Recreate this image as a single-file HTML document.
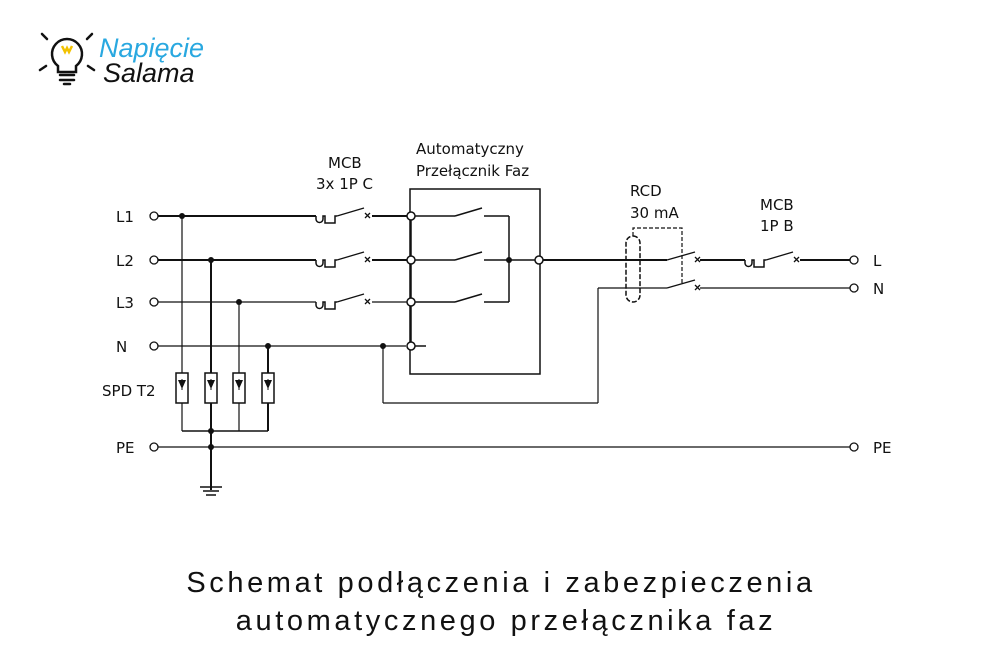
<!DOCTYPE html>
<html><head><meta charset="utf-8"><style>
html,body{margin:0;padding:0;background:#fff;}
svg{display:block;}
text{font-family:"DejaVu Sans","Liberation Sans",sans-serif;fill:#111;}
text.lib{font-family:"Liberation Sans",sans-serif;}
</style></head><body>
<svg width="1000" height="667" viewBox="0 0 1000 667" xmlns="http://www.w3.org/2000/svg">
<defs>
<g id="fuse"><path d="M0 0 v3 a3.5 3.5 0 0 0 7 0 v-3 h2 v7 h10 v-7 h2" fill="none" stroke="#111" stroke-width="1.5"/></g>
</defs>
<g stroke="#111" stroke-width="2.5" fill="none" stroke-linecap="round">
<path d="M58 66 a15 15 0 1 1 18 0 v6 h-18 z"/>
<line x1="42" y1="34" x2="47" y2="39"/><line x1="92" y1="34" x2="87" y2="39"/>
<line x1="40" y1="70" x2="46" y2="66"/><line x1="94" y1="70" x2="88" y2="66"/>
<line x1="60" y1="75" x2="74" y2="75"/><line x1="60" y1="80" x2="74" y2="80"/>
<line x1="64" y1="84" x2="70" y2="84"/>
</g>
<path d="M62 46 l3 6 l2 -4 l2 4 l3 -6" stroke="#f2c200" stroke-width="2.5" fill="none"/>
<text class="lib" x="99" y="57" style="font-style:italic;font-size:27px;fill:#29a8e0">Napięcie</text>
<text class="lib" x="103" y="82" style="font-style:italic;font-size:27px;fill:#111">Salama</text>

<g stroke="#111" fill="none">
<line x1="158" y1="216" x2="316" y2="216" stroke-width="2"/>
<line x1="158" y1="260" x2="316" y2="260" stroke-width="2"/>
<line x1="158" y1="302" x2="316" y2="302" stroke-width="1.2"/>
<line x1="158" y1="346" x2="406" y2="346" stroke-width="1.2"/>
<line x1="158" y1="447" x2="850" y2="447" stroke-width="1.2"/>
<line x1="182" y1="216" x2="182" y2="373" stroke-width="1.2"/>
<line x1="211" y1="260" x2="211" y2="373" stroke-width="2"/>
<line x1="239" y1="302" x2="239" y2="373" stroke-width="1.2"/>
<line x1="268" y1="346" x2="268" y2="373" stroke-width="2"/>
<g stroke-width="1.5">
<rect x="176" y="373" width="12" height="30"/><rect x="205" y="373" width="12" height="30"/>
<rect x="233" y="373" width="12" height="30"/><rect x="262" y="373" width="12" height="30"/>
</g>
<line x1="182" y1="379" x2="182" y2="390"/><line x1="211" y1="379" x2="211" y2="390"/>
<line x1="239" y1="379" x2="239" y2="390"/><line x1="268" y1="379" x2="268" y2="390"/>
<line x1="182" y1="403" x2="182" y2="431" stroke-width="1.2"/>
<line x1="211" y1="403" x2="211" y2="490" stroke-width="2"/>
<line x1="239" y1="403" x2="239" y2="431" stroke-width="1.2"/>
<line x1="268" y1="403" x2="268" y2="431" stroke-width="2"/>
<line x1="182" y1="431" x2="268" y2="431" stroke-width="1.5"/>
<line x1="200" y1="487" x2="222" y2="487" stroke-width="1.5"/>
<line x1="203" y1="491" x2="219" y2="491" stroke-width="1.5"/>
<line x1="206" y1="495" x2="216" y2="495" stroke-width="1.5"/>
<use href="#fuse" x="316" y="216"/><use href="#fuse" x="316" y="260"/><use href="#fuse" x="316" y="302"/>
<g stroke-width="1.3">
<line x1="337" y1="216" x2="364" y2="208"/><line x1="337" y1="260" x2="364" y2="252"/><line x1="337" y1="302" x2="364" y2="294"/>
<path d="M365 213 l5 5 M370 213 l-5 5 M365 257 l5 5 M370 257 l-5 5 M365 299 l5 5 M370 299 l-5 5"/>
</g>
<line x1="372" y1="216" x2="407" y2="216" stroke-width="2"/>
<line x1="372" y1="260" x2="407" y2="260" stroke-width="2"/>
<line x1="372" y1="302" x2="407" y2="302" stroke-width="1.2"/>
<rect x="410" y="189" width="130" height="185" stroke-width="1.5"/>
<line x1="411" y1="216" x2="411" y2="346" stroke-width="1.5"/>
<g stroke-width="1.5">
<line x1="415" y1="216" x2="455" y2="216"/><line x1="455" y1="216" x2="482" y2="208"/>
<line x1="415" y1="260" x2="455" y2="260"/><line x1="455" y1="260" x2="482" y2="252"/>
<line x1="415" y1="302" x2="455" y2="302"/><line x1="455" y1="302" x2="482" y2="294"/>
<line x1="484" y1="216" x2="509" y2="216"/><line x1="484" y1="260" x2="535" y2="260"/><line x1="484" y1="302" x2="509" y2="302"/>
<line x1="509" y1="216" x2="509" y2="302"/>
<line x1="415" y1="346" x2="426" y2="346"/>
</g>
<g stroke-width="1.5" fill="#fff">
<circle cx="411" cy="216" r="4"/><circle cx="411" cy="260" r="4"/><circle cx="411" cy="302" r="4"/><circle cx="411" cy="346" r="4"/>
<circle cx="539" cy="260" r="4"/>
</g>
<line x1="543" y1="260" x2="667" y2="260" stroke-width="2"/>
<line x1="383" y1="346" x2="383" y2="403" stroke-width="1.2"/>
<line x1="383" y1="403" x2="598" y2="403" stroke-width="1.2"/>
<line x1="598" y1="403" x2="598" y2="288" stroke-width="1.2"/>
<line x1="598" y1="288" x2="667" y2="288" stroke-width="1.2"/>
<rect x="626" y="236" width="14" height="66" rx="7" stroke-width="1.5" stroke-dasharray="5 2"/>
<path d="M633 236 v-8 h49 v57" stroke-width="1.2" stroke-dasharray="4 2"/>
<g stroke-width="1.3">
<line x1="667" y1="260" x2="695" y2="252"/><line x1="667" y1="288" x2="695" y2="280"/>
<path d="M695 257 l5 5 M700 257 l-5 5 M695 285 l5 5 M700 285 l-5 5"/>
</g>
<line x1="700" y1="260" x2="745" y2="260" stroke-width="2"/>
<line x1="700" y1="288" x2="850" y2="288" stroke-width="1.2"/>
<use href="#fuse" x="745" y="260"/>
<g stroke-width="1.3">
<line x1="766" y1="260" x2="793" y2="252"/>
<path d="M794 257 l5 5 M799 257 l-5 5"/>
</g>
<line x1="800" y1="260" x2="850" y2="260" stroke-width="2"/>
<g stroke-width="1.3" fill="#fff">
<circle cx="154" cy="216" r="4"/><circle cx="154" cy="260" r="4"/><circle cx="154" cy="302" r="4"/>
<circle cx="154" cy="346" r="4"/><circle cx="154" cy="447" r="4"/>
<circle cx="854" cy="260" r="4"/><circle cx="854" cy="288" r="4"/><circle cx="854" cy="447" r="4"/>
</g>
</g>
<g fill="#111">
<circle cx="182" cy="216" r="3"/><circle cx="211" cy="260" r="3"/><circle cx="239" cy="302" r="3"/>
<circle cx="268" cy="346" r="3"/><circle cx="383" cy="346" r="3"/><circle cx="509" cy="260" r="3"/>
<circle cx="211" cy="431" r="3"/><circle cx="211" cy="447" r="3"/>
<path d="M178 380 h8 l-4 9 z M207 380 h8 l-4 9 z M235 380 h8 l-4 9 z M264 380 h8 l-4 9 z"/>
</g>
<g style="font-size:15px">
<text x="116" y="222">L1</text><text x="116" y="266">L2</text><text x="116" y="308">L3</text>
<text x="116" y="352">N</text><text x="102" y="396">SPD T2</text><text x="116" y="453">PE</text>
<text x="873" y="266">L</text><text x="873" y="294">N</text><text x="873" y="453">PE</text>
<text x="328" y="168">MCB</text><text x="316" y="189">3x 1P C</text>
<text x="416" y="154">Automatyczny</text><text x="416" y="176">Przełącznik Faz</text>
<text x="630" y="196">RCD</text><text x="630" y="218">30 mA</text>
<text x="760" y="210">MCB</text><text x="760" y="231">1P B</text>
</g>
<g text-anchor="middle">
<text class="lib" x="501" y="592" style="font-size:29px;letter-spacing:3.6px">Schemat podłączenia i zabezpieczenia</text>
<text class="lib" x="506" y="630" style="font-size:29px;letter-spacing:3.6px">automatycznego przełącznika faz</text>
</g>
</svg>
</body></html>
